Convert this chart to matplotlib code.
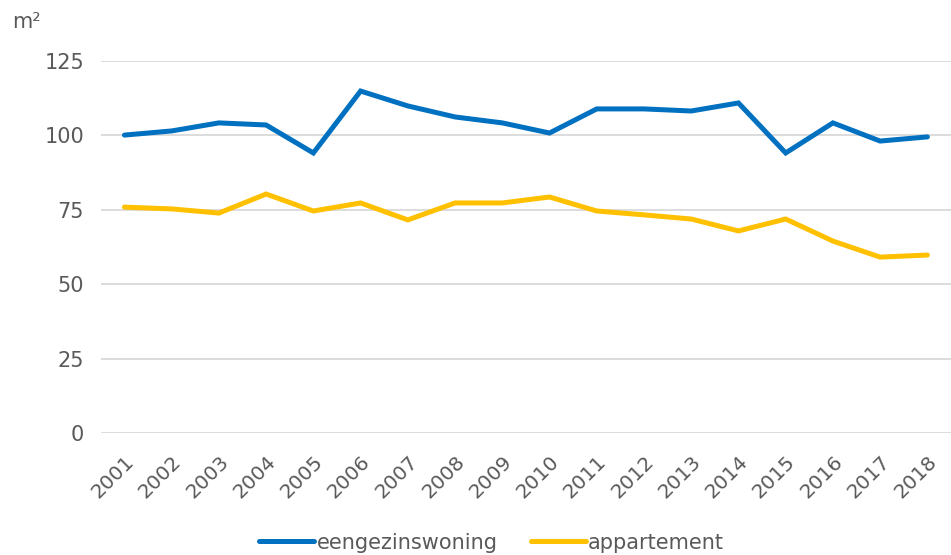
import matplotlib
matplotlib.use("Agg")
import matplotlib.pyplot as plt

years = [str(y) for y in range(2001, 2019)]
eengezinswoning = [100.1, 101.5, 104.2, 103.5, 94.1, 114.9, 109.9, 106.2, 104.2, 100.8,
                   108.9, 108.9, 108.2, 110.9, 94.1, 104.2, 98.1, 99.5]
appartement = [75.9, 75.3, 73.9, 80.3, 74.6, 77.3, 71.6, 77.3, 77.3, 79.3,
               74.6, 73.3, 71.9, 67.9, 71.9, 64.5, 59.1, 59.8]
yticks = [0, 25, 50, 75, 100, 125]

plt.rcParams['font.family'] = ['DejaVu Sans']
fig = plt.figure(figsize=(9.51, 5.55), dpi=100)
ax = fig.add_axes([0.106, 0.2198, 0.894, 0.6703])

x = list(range(len(years)))
ax.plot(x, eengezinswoning, color='#0070C0', lw=3.6, solid_capstyle='round',
        solid_joinstyle='miter', label='eengezinswoning', zorder=3)
ax.plot(x, appartement, color='#FFC000', lw=3.6, solid_capstyle='round',
        solid_joinstyle='miter', label='appartement', zorder=3)

ax.set_xlim(-0.5, len(years) - 0.5)
ax.set_ylim(0, 125)
ax.set_yticks(yticks)
ax.set_yticklabels([str(v) for v in yticks], fontsize=15, color='#595959')
ax.set_xticks(x)
ax.set_xticklabels(years, rotation=45, ha='right', rotation_mode='anchor',
                   fontsize=14.5, color='#595959')
ax.tick_params(axis='both', length=0)
ax.tick_params(axis='y', pad=12)
ax.tick_params(axis='x', pad=14)
ax.grid(axis='y', color='#d9d9d9', lw=1.3)
ax.set_axisbelow(True)
for s in ax.spines.values():
    s.set_visible(False)

fig.text(0.013, 0.96, 'm²', fontsize=15, color='#595959', va='center', ha='left')

leg = fig.legend(loc='center', bbox_to_anchor=(0.517, 0.022), ncol=2, frameon=False,
                 fontsize=15, handlelength=2.65, handletextpad=0.1, columnspacing=1.6,
                 labelcolor='#595959')

fig.savefig('out.png', dpi=100)
